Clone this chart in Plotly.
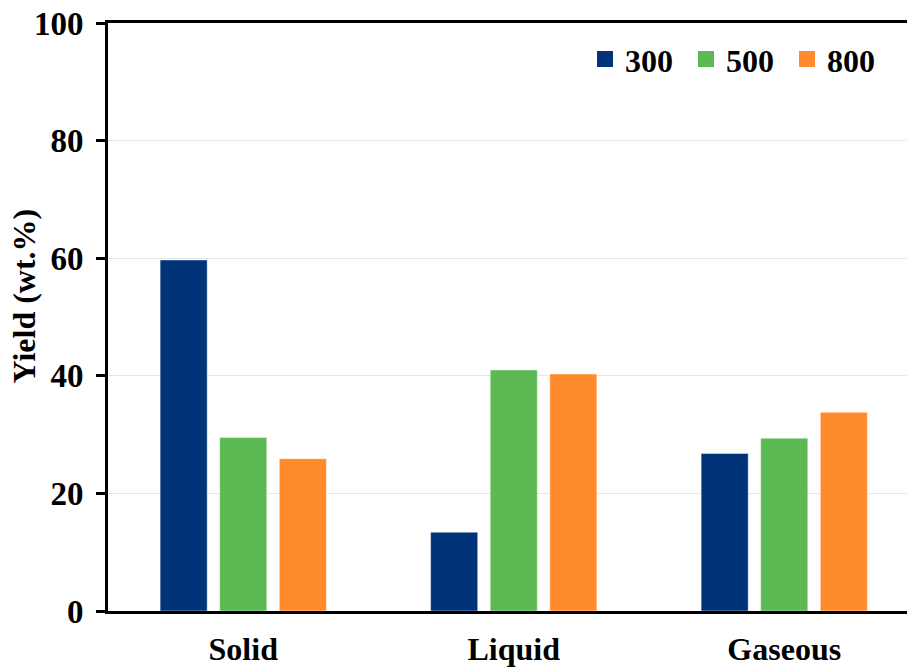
import plotly.graph_objects as go

categories = ["Solid", "Liquid", "Gaseous"]
series_names = ["300", "500", "800"]
values_300 = [59.7, 13.4, 26.8]
values_500 = [29.5, 41.0, 29.4]
values_800 = [25.9, 40.3, 33.8]
colors = ["#003377", "#5DB954", "#FF8B2C"]
y_ticks = [0, 20, 40, 60, 80, 100]

FONT = "Liberation Serif"
fig = go.Figure()
for name, vals, col in zip(series_names, [values_300, values_500, values_800], colors):
    fig.add_trace(go.Bar(
        x=categories, y=vals, name=name, showlegend=False,
        marker=dict(color=col, line=dict(color="rgba(255,255,255,0.45)", width=1)),
    ))
for name, col in zip(series_names, colors):
    fig.add_trace(go.Scatter(
        x=[None], y=[None], mode="markers", name=name,
        marker=dict(symbol="square", size=16, color=col),
    ))

fig.update_layout(
    width=907, height=668,
    margin=dict(l=108, r=0, t=23, b=57, autoexpand=False),
    paper_bgcolor="white", plot_bgcolor="white",
    barmode="group", bargap=0.339, bargroupgap=0.21,
    font=dict(family=FONT, size=32, color="black"),
    legend=dict(
        orientation="h", x=0.597, xanchor="left", y=0.985, yanchor="top",
        font=dict(family=FONT, size=32, color="black", weight="bold"),
        bgcolor="rgba(0,0,0,0)", entrywidth=56, itemwidth=30,
        tracegroupgap=0,
    ),
    annotations=[dict(
        text="Yield (wt.%)", textangle=-90, showarrow=False,
        xref="paper", yref="paper", x=-0.105, y=0.535,
        xanchor="center", yanchor="middle",
        font=dict(family=FONT, size=32, color="black", weight="bold"),
    )],
)
fig.update_xaxes(
    range=[-0.5, 2.4538], automargin=False,
    showline=True, linecolor="black", linewidth=3, mirror=True,
    ticks="", showgrid=False,
    tickfont=dict(family=FONT, size=32, color="black", weight="bold"),
    ticklabelstandoff=8,
)
fig.update_yaxes(
    range=[0, 100], tickvals=y_ticks, automargin=False,
    showline=True, linecolor="black", linewidth=3, mirror=False,
    ticks="outside", ticklen=9, tickwidth=3, tickcolor="black",
    showgrid=True, gridcolor="#e6e6e6", gridwidth=1, zeroline=False,
    tickfont=dict(family=FONT, size=33, color="black", weight="bold"),
    ticklabelstandoff=6,
)

fig.write_html(
    "out.html",
    config={"displayModeBar": False},
    post_script="document.body.style.margin='0';document.body.style.overflow='hidden';",
)
